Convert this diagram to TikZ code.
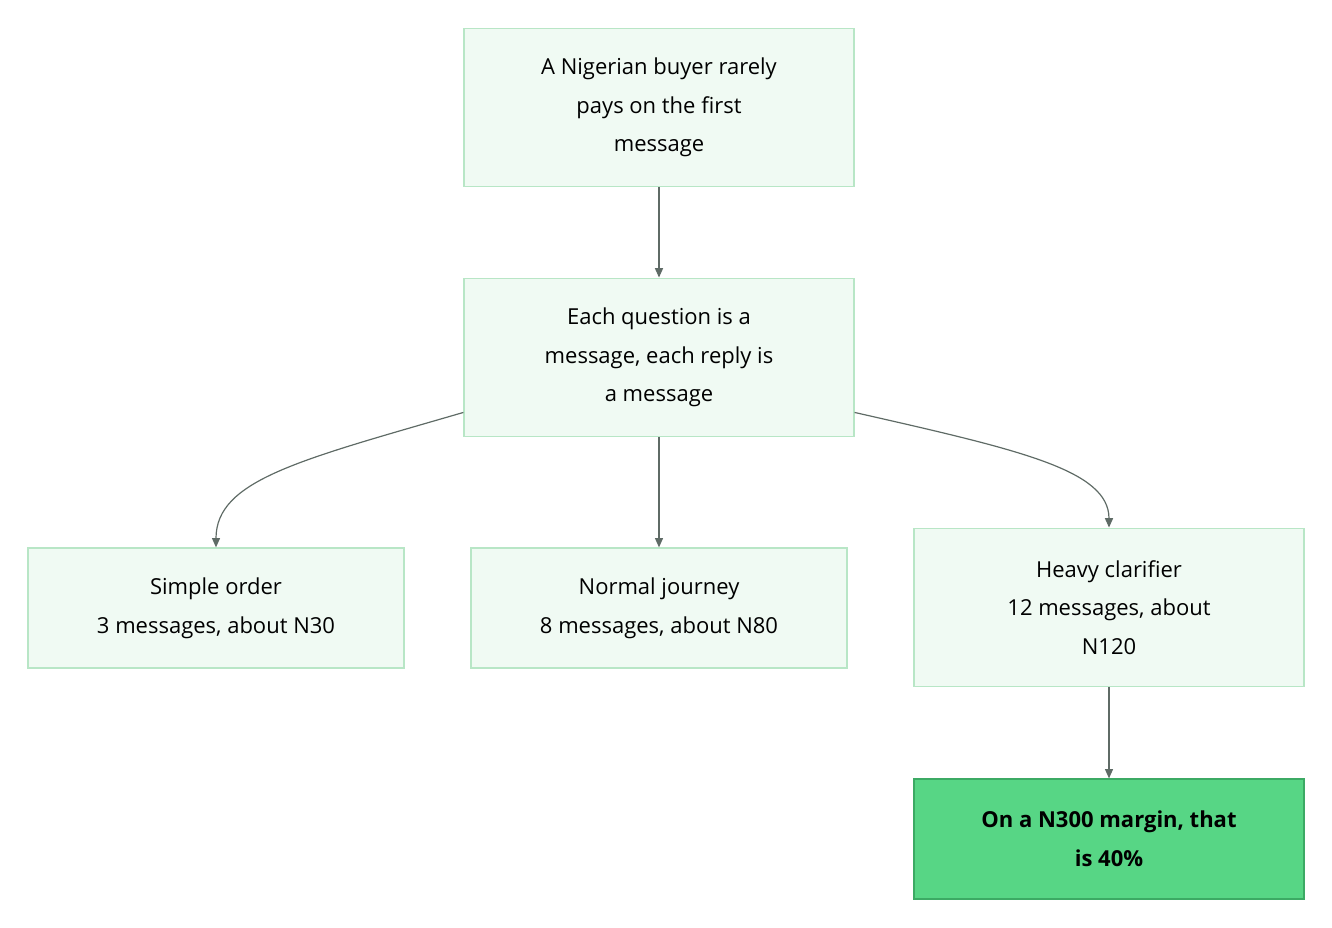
\documentclass[tikz,border=0pt]{standalone}
\usepackage{fontspec}
\setmainfont{Open Sans}
\usepackage{xcolor}
\definecolor{cajaFondo}{RGB}{240, 250, 243}
\definecolor{cajaBorde}{RGB}{184, 230, 198}
\definecolor{verdeFuerte}{RGB}{87, 214, 133}
\definecolor{verdeBorde}{RGB}{60, 170, 100}
\definecolor{grisFlecha}{RGB}{95, 107, 102}
\usetikzlibrary{arrows.meta,calc,positioning}
\tikzstyle{caja}  =[rectangle, draw=cajaBorde, fill=cajaFondo, line width=0.9pt,
                    align=center, inner sep=0pt,
                    font=\fontsize{16.5}{29}\selectfont]
\tikzstyle{flecha}=[draw=grisFlecha, line width=0.9pt,
                    -{Triangle[length=7pt,width=6pt]}]

\begin{document}
\begin{tikzpicture}[x=0.75pt,y=-0.75pt]

    \useasboundingbox (0,0) rectangle (1332,928);

    \node (msg1) [caja,minimum width=292.5pt,minimum height=119pt]
        at (659,107.5) {A Nigerian buyer rarely\\pays on the first\\message};
    \node (msg2) [caja,minimum width=292.5pt,minimum height=119pt]
        at (659,357.5) {Each question is a\\message, each reply is\\a message};
    \node (simple) [caja,minimum width=282pt,minimum height=90pt]
        at (216,608) {Simple order\\3 messages, about N30};
    \node (normal) [caja,minimum width=282pt,minimum height=90pt]
        at (659,608) {Normal journey\\8 messages, about N80};
    \node (heavy) [caja,minimum width=292.5pt,minimum height=119pt]
        at (1109,607.5) {Heavy clarifier\\12 messages, about\\N120};
    \node (margin) [caja,draw=verdeBorde,fill=verdeFuerte,
        minimum width=292.5pt,minimum height=90pt,
        font=\fontsize{16.5}{29}\selectfont\bfseries]
        at (1109,839) {On a N300 margin, that\\is 40\%};

    \coordinate (salI) at ($(msg2.south west)+(0,-25)$);
    \coordinate (salD) at ($(msg2.south east)+(0,-25)$);

    \draw [flecha] (msg1) -- (msg2);
    \draw [flecha] (msg2) -- (normal);
    \draw [flecha] (salI) .. controls (300,460) and (216,480) .. (simple.north);
    \draw [flecha] (salD) .. controls (1020,450) and (1109,470) .. (heavy.north);
    \draw [flecha] (heavy) -- (margin);

\end{tikzpicture}
\end{document}
